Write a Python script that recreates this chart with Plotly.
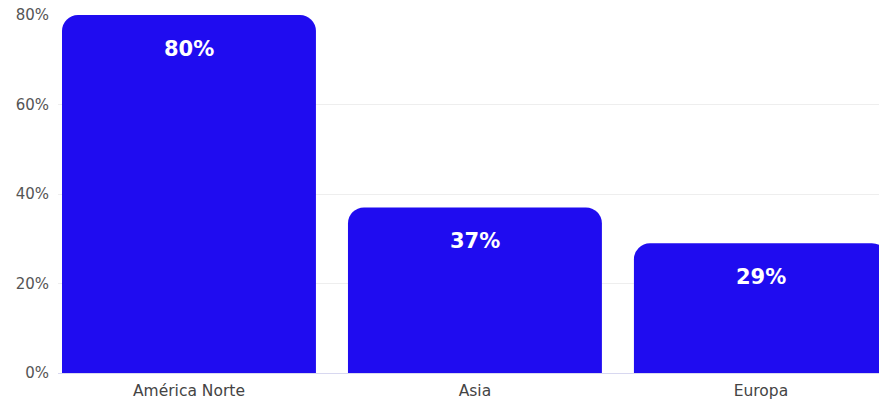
import plotly.graph_objects as go

categories = ["América Norte", "Asia", "Europa"]
values = [80, 37, 29]
labels = ["80%", "37%", "29%"]
y_ticks = [0, 20, 40, 60, 80]
y_tick_text = ["0%", "20%", "40%", "60%", "80%"]

BLUE = "#1f0cf0"
FONT = "DejaVu Sans, Roboto, sans-serif"

fig = go.Figure()
fig.add_trace(go.Bar(
    x=list(range(len(categories))),
    y=values,
    marker=dict(color=BLUE, cornerradius=16, line=dict(width=0)),
    width=0.888,
    hoverinfo="skip",
))

for i, (v, t) in enumerate(zip(values, labels)):
    fig.add_annotation(x=i, y=v, text=f"<b>{t}</b>", showarrow=False,
                       yshift=-34, yanchor="middle",
                       font=dict(family=FONT, size=21, color="white"))

fig.update_layout(
    width=879, height=404,
    margin=dict(l=58, r=0, t=15, b=31),
    paper_bgcolor="white", plot_bgcolor="white",
    showlegend=False,
    font=dict(family=FONT),
    xaxis=dict(
        range=[-0.458, 2.413],
        tickmode="array", tickvals=list(range(len(categories))), ticktext=categories,
        showgrid=False, zeroline=False, showline=False,
        tickfont=dict(size=15.5, color="#444444"),
        ticks="", ticklabelstandoff=6, fixedrange=True,
    ),
    yaxis=dict(
        range=[0, 80],
        tickmode="array", tickvals=y_ticks, ticktext=y_tick_text,
        showgrid=True, gridcolor="#eeeeee", gridwidth=1,
        zeroline=True, zerolinecolor="#d8d8f0", zerolinewidth=1,
        tickfont=dict(size=15, color="#555555"),
        ticks="", ticklabelstandoff=8, fixedrange=True,
    ),
)

fig.write_html(
    "out.html",
    config={"displayModeBar": False},
    post_script="document.body.style.margin='0';document.body.style.overflow='hidden';",
)
